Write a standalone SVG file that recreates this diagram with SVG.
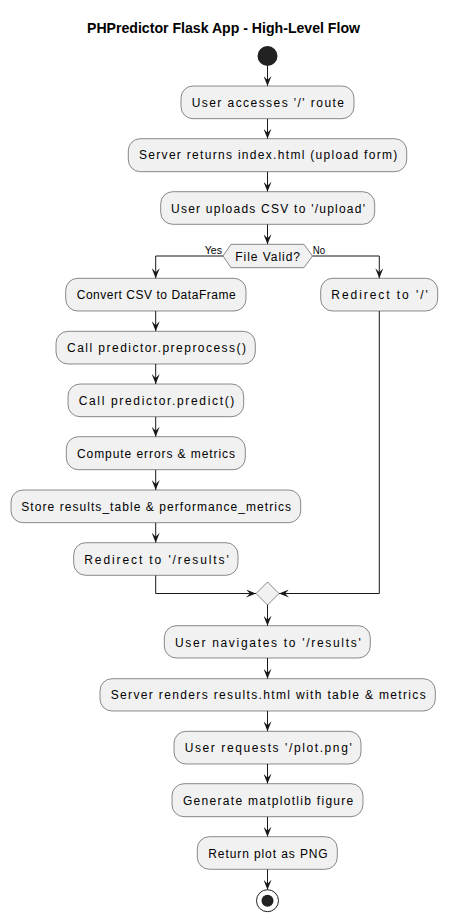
<svg xmlns="http://www.w3.org/2000/svg" width="449" height="922" viewBox="0 0 449 922">
<style>
.box{fill:#F1F1F1;stroke:#181818;stroke-width:0.5}
.t{font-family:"Liberation Sans",Arial,sans-serif;font-size:12px;fill:#000000}
.lbl{font-family:"Liberation Sans",Arial,sans-serif;font-size:11px;fill:#000000}
.title{font-family:"Liberation Sans",Arial,sans-serif;font-size:14px;font-weight:bold;fill:#000000}
.ln{fill:none;stroke:#181818;stroke-width:1}
</style>
<defs>
<marker id="arr" viewBox="0 0 10 8" refX="10" refY="4" markerWidth="10" markerHeight="8" orient="auto" markerUnits="userSpaceOnUse">
<path d="M0,0 L10,4 L0,8 L4,4 Z" fill="#181818"/>
</marker>
</defs>
<rect width="449" height="922" fill="#FFFFFF"/>
<text class="title" x="87" y="33" textLength="273" lengthAdjust="spacingAndGlyphs">PHPredictor Flask App - High-Level Flow</text>

<g id="connectors">
<path class="ln" marker-end="url(#arr)" d="M267.5,66 V86"/>
<path class="ln" marker-end="url(#arr)" d="M267.5,118.7 V138.7"/>
<path class="ln" marker-end="url(#arr)" d="M267.5,171.7 V191.7"/>
<path class="ln" marker-end="url(#arr)" d="M267.5,224.3 V244.3"/>
<path class="ln" marker-end="url(#arr)" d="M223,256 H155.7 V278.3"/>
<path class="ln" marker-end="url(#arr)" d="M312.5,256 H379.3 V278.3"/>
<path class="ln" marker-end="url(#arr)" d="M155.7,311 V331.3"/>
<path class="ln" marker-end="url(#arr)" d="M155.7,364 V384"/>
<path class="ln" marker-end="url(#arr)" d="M155.7,416.7 V436.7"/>
<path class="ln" marker-end="url(#arr)" d="M155.7,469.7 V490"/>
<path class="ln" marker-end="url(#arr)" d="M155.7,522.7 V542.7"/>
<path class="ln" marker-end="url(#arr)" d="M155.7,575.3 V593.5 H256"/>
<path class="ln" marker-end="url(#arr)" d="M379.3,311 V593.5 H279"/>
<path class="ln" marker-end="url(#arr)" d="M267.5,605 V625.7"/>
<path class="ln" marker-end="url(#arr)" d="M267.5,658 V678.7"/>
<path class="ln" marker-end="url(#arr)" d="M267.5,711 V731.3"/>
<path class="ln" marker-end="url(#arr)" d="M267.5,764 V783.7"/>
<path class="ln" marker-end="url(#arr)" d="M267.5,816.7 V836.7"/>
<path class="ln" marker-end="url(#arr)" d="M267.5,869.3 V889.7"/>
<text class="lbl" x="204.7" y="254.3" textLength="17.3" lengthAdjust="spacingAndGlyphs">Yes</text>
<text class="lbl" x="312.7" y="254.3" textLength="12.3" lengthAdjust="spacingAndGlyphs">No</text>
</g>

<g id="start"><circle cx="267.5" cy="56" r="10" fill="#222222"/></g>

<g id="n1"><rect class="box" x="181" y="86" width="173" height="32.7" rx="12" ry="12"/>
<text class="t" x="191.7" y="106.5" textLength="152.3" lengthAdjust="spacing">User accesses '/' route</text></g>

<g id="n2"><rect class="box" x="128.3" y="138.7" width="278.4" height="33" rx="12" ry="12"/>
<text class="t" x="139" y="159.3" textLength="258.3" lengthAdjust="spacing">Server returns index.html (upload form)</text></g>

<g id="n3"><rect class="box" x="160.7" y="191.7" width="214" height="32.6" rx="12" ry="12"/>
<text class="t" x="171" y="212.5" textLength="194" lengthAdjust="spacing">User uploads CSV to '/upload'</text></g>

<g id="decision"><polygon class="box" points="231,244.3 304,244.3 312.5,256 304,267.7 231,267.7 223,256"/>
<text class="t" x="235.3" y="260.5" textLength="64.7" lengthAdjust="spacing">File Valid?</text></g>

<g id="n4"><rect class="box" x="65.7" y="278.3" width="180.3" height="32.7" rx="12" ry="12"/>
<text class="t" x="76.7" y="299.2" textLength="159" lengthAdjust="spacing">Convert CSV to DataFrame</text></g>

<g id="n5"><rect class="box" x="320.7" y="278.3" width="117" height="32.7" rx="12" ry="12"/>
<text class="t" x="331.3" y="299.2" textLength="96.4" lengthAdjust="spacing">Redirect to '/'</text></g>

<g id="n6"><rect class="box" x="56" y="331.3" width="199.3" height="32.7" rx="12" ry="12"/>
<text class="t" x="67" y="352" textLength="179" lengthAdjust="spacing">Call predictor.preprocess()</text></g>

<g id="n7"><rect class="box" x="68" y="384" width="175.7" height="32.7" rx="12" ry="12"/>
<text class="t" x="78.7" y="404.8" textLength="155.6" lengthAdjust="spacing">Call predictor.predict()</text></g>

<g id="n8"><rect class="box" x="66.3" y="436.7" width="179" height="33" rx="12" ry="12"/>
<text class="t" x="77" y="457.5" textLength="158" lengthAdjust="spacing">Compute errors &amp; metrics</text></g>

<g id="n9"><rect class="box" x="11" y="490" width="289.7" height="32.7" rx="12" ry="12"/>
<text class="t" x="21.3" y="510.8" textLength="269.7" lengthAdjust="spacing">Store results_table &amp; performance_metrics</text></g>

<g id="n10"><rect class="box" x="73.7" y="542.7" width="164.3" height="32.6" rx="12" ry="12"/>
<text class="t" x="84.3" y="563.5" textLength="144.4" lengthAdjust="spacing">Redirect to '/results'</text></g>

<g id="merge"><polygon class="box" points="267.5,582 279,593.5 267.5,605 256,593.5"/></g>

<g id="n11"><rect class="box" x="164.3" y="625.7" width="206" height="32.3" rx="12" ry="12"/>
<text class="t" x="175" y="646.5" textLength="185.7" lengthAdjust="spacing">User navigates to '/results'</text></g>

<g id="n12"><rect class="box" x="100" y="678.7" width="335.3" height="32.3" rx="12" ry="12"/>
<text class="t" x="110.7" y="699.4" textLength="315" lengthAdjust="spacing">Server renders results.html with table &amp; metrics</text></g>

<g id="n13"><rect class="box" x="174" y="731.3" width="187" height="32.7" rx="12" ry="12"/>
<text class="t" x="184.7" y="752.1" textLength="167" lengthAdjust="spacing">User requests '/plot.png'</text></g>

<g id="n14"><rect class="box" x="172" y="783.7" width="191" height="33" rx="12" ry="12"/>
<text class="t" x="183" y="804.5" textLength="170.3" lengthAdjust="spacing">Generate matplotlib figure</text></g>

<g id="n15"><rect class="box" x="197.3" y="836.7" width="140" height="32.6" rx="12" ry="12"/>
<text class="t" x="208.3" y="857.5" textLength="119.4" lengthAdjust="spacing">Return plot as PNG</text></g>

<g id="end"><circle cx="267.5" cy="900.7" r="11" fill="none" stroke="#222222" stroke-width="1"/>
<circle cx="267.5" cy="900.7" r="6" fill="#222222"/></g>
</svg>
